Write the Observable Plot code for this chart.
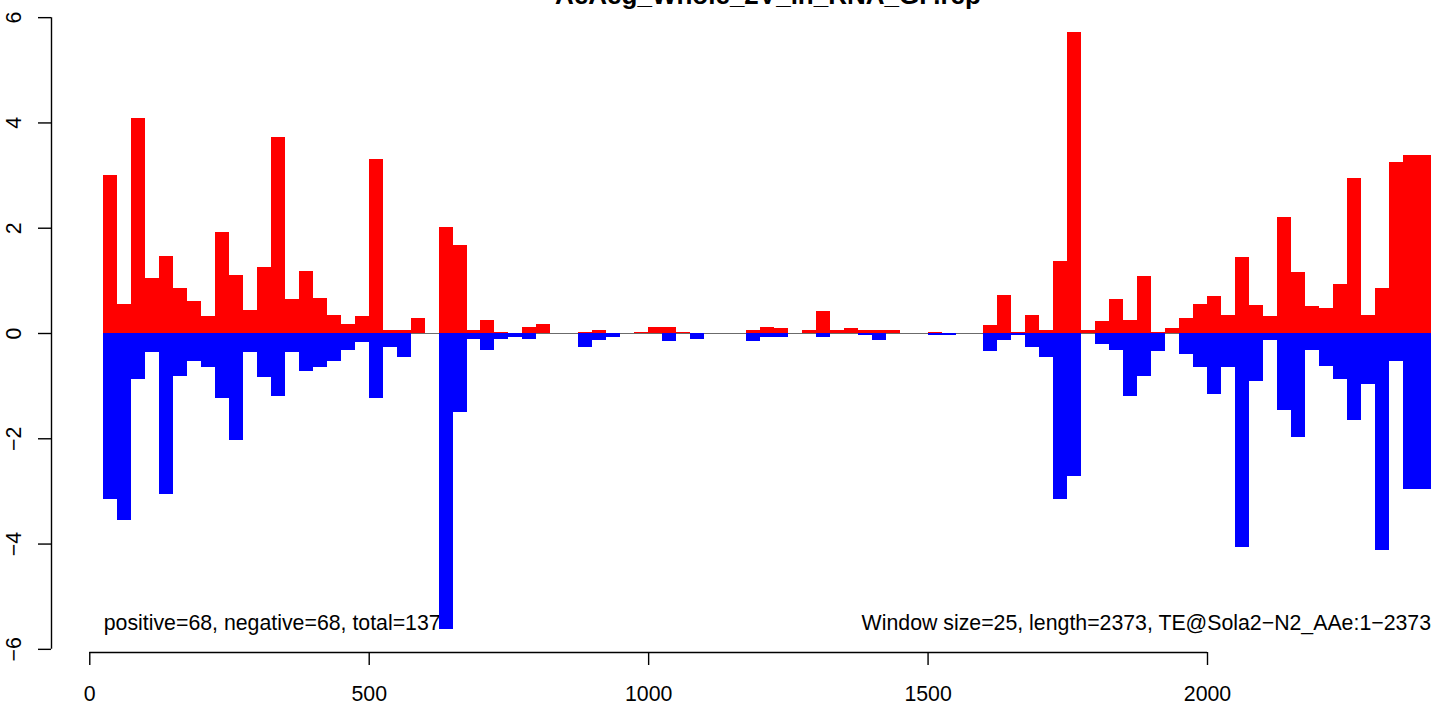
<!DOCTYPE html>
<html>
<head>
<meta charset="utf-8">
<script src="https://cdn.jsdelivr.net/npm/d3@7"></script>
<script src="https://cdn.jsdelivr.net/npm/@observablehq/plot@0.6"></script>
<style>
  html, body { margin: 0; padding: 0; background: #fff; overflow: hidden; }
  #wrap { position: relative; width: 1439px; height: 704px; }
  #title { position: absolute; left: 0; width: 1536px; top: -18px; text-align: center;
           font: bold 26px "Liberation Sans", Arial, Helvetica, sans-serif; line-height: 26px; color: #000; }
</style>
</head>
<body>
<div id="wrap"><div id="title">AeAeg_Whole_2V_in_RNA_GP.rep</div></div>
<script>
const titleText = "AeAeg_Whole_2V_in_RNA_GP.rep";
const windowSize = 25;
const seqLength = 2373;
const windowStarts = d3.range(25, 2400, windowSize);
const positiveValues = [3.01,0.56,4.08,1.04,1.46,0.85,0.60,0.32,1.91,1.11,0.43,1.25,3.72,0.64,1.17,0.66,0.34,0.18,0.32,3.30,
  0.05,0.05,0.28,0,2.01,1.67,0.05,0.24,0.01,0,0.11,0.18,0,0,0.01,0.05,0,0,0.01,0.11,
  0.11,0.01,0,0,0,0,0.05,0.11,0.09,0,0.05,0.41,0.05,0.09,0.05,0.05,0.05,0,0,0.01,
  0,0,0,0.15,0.73,0.01,0.34,0.05,1.36,5.71,0.05,0.22,0.64,0.24,1.08,0.01,0.09,0.28,0.56,0.70,
  0.34,1.44,0.53,0.32,2.20,1.15,0.51,0.47,0.94,2.94,0.34,0.85,3.24,3.39,3.39];
const negativeValues = [-3.15,-3.55,-0.87,-0.36,-3.05,-0.82,-0.53,-0.65,-1.23,-2.03,-0.36,-0.84,-1.19,-0.36,-0.72,-0.65,-0.53,-0.32,-0.17,-1.23,
  -0.27,-0.46,0,0,-5.62,-1.51,-0.11,-0.32,-0.11,-0.07,-0.11,0,0,0,-0.27,-0.13,-0.08,0,0,0,
  -0.16,0,-0.11,0,0,0,-0.16,-0.07,-0.07,0,0,-0.07,0,0,-0.03,-0.13,0,0,0,-0.03,
  -0.03,0,0,-0.35,-0.13,-0.03,-0.27,-0.46,-3.15,-2.71,0,-0.20,-0.32,-1.19,-0.82,-0.35,0,-0.39,-0.64,-1.15,
  -0.64,-4.06,-0.91,-0.13,-1.46,-1.97,-0.32,-0.62,-0.87,-1.65,-0.96,-4.12,-0.54,-2.96,-2.96];
const xTicks = [0, 500, 1000, 1500, 2000];
const yTicks = [-6, -4, -2, 0, 2, 4, 6];
const leftNote = "positive=68, negative=68, total=137";
const rightNote = "Window size=25, length=2373, TE@Sola2\u2212N2_AAe:1\u22122373";

const bars = windowStarts.map((s, i) => ({start: s, end: s + windowSize, pos: positiveValues[i], neg: negativeValues[i]}));
const xDomain = [-68.5, 2000];
const yDomain = [-6.06, 6.06];
const fmt = d => d < 0 ? "\u2212" + (-d) : String(d);
const font = '"Liberation Sans", Arial, Helvetica, sans-serif';

const chart = Plot.plot({
  width: 1439,
  height: 704,
  marginLeft: 51,
  marginRight: 232,
  marginTop: 14,
  marginBottom: 52,
  style: {fontFamily: font, fontSize: "21.3px", color: "#000", background: "#fff", overflow: "visible"},
  x: {domain: xDomain},
  y: {domain: yDomain},
  marks: [
    Plot.ruleY([0], {x1: windowStarts[0], x2: windowStarts[windowStarts.length - 1] + windowSize, stroke: "#6b6b6b", strokeWidth: 1.2}),
    Plot.text([leftNote], {x: windowStarts[0], y: -5.5, text: d => d, textAnchor: "start", lineAnchor: "middle", fill: "#000"}),
    Plot.text([rightNote], {x: windowStarts[windowStarts.length - 1] + windowSize, y: -5.5, text: d => d, textAnchor: "end", lineAnchor: "middle", fill: "#000"}),
    Plot.rect(bars, {x1: "start", x2: "end", y1: 0, y2: "pos", fill: "#ff0000", shapeRendering: "crispEdges"}),
    Plot.rect(bars, {x1: "start", x2: "end", y1: 0, y2: "neg", fill: "#0000ff", shapeRendering: "crispEdges"}),
    Plot.ruleY([yDomain[0]], {x1: xTicks[0], x2: xTicks[xTicks.length - 1], stroke: "#000", strokeWidth: 1.4}),
    Plot.axisX({ticks: xTicks, tickSize: 13, tickPadding: 20, tickFormat: fmt, label: null, stroke: "#000", strokeWidth: 1.4}),
    Plot.ruleX([xDomain[0]], {y1: yTicks[0], y2: yTicks[yTicks.length - 1], stroke: "#000", strokeWidth: 1.4}),
    Plot.axisY({ticks: yTicks, tickSize: 13, tickFormat: () => "", label: null, stroke: "#000", strokeWidth: 1.4}),
    Plot.text(yTicks, {x: xDomain[0], y: d => d, text: fmt, rotate: -90, textAnchor: "middle", lineAnchor: "bottom", dx: -31, fill: "#000"})
  ]
});
document.getElementById("wrap").appendChild(chart);
</script>
</body>
</html>
